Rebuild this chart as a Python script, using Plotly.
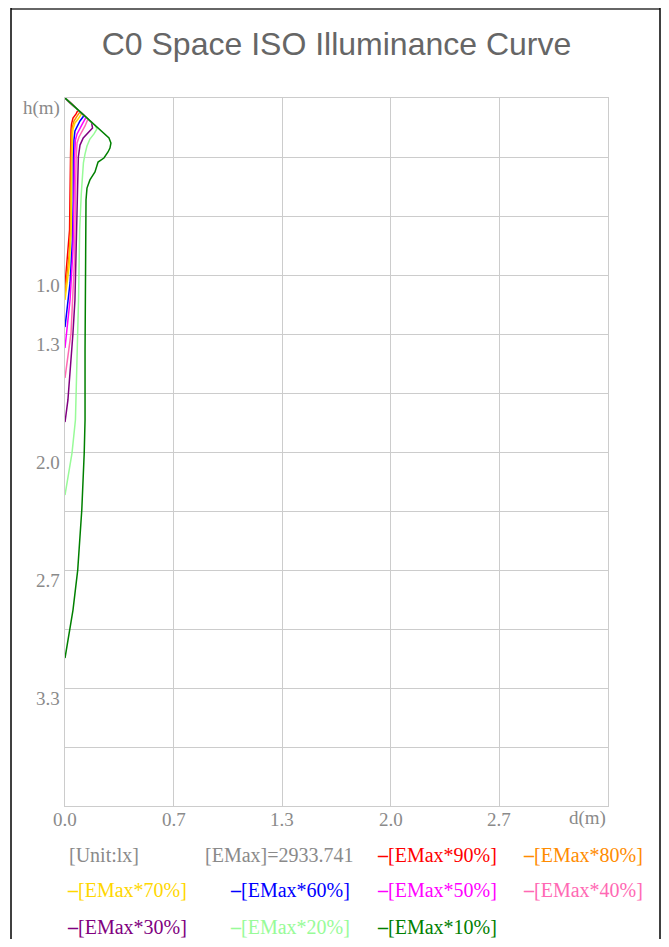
import plotly.graph_objects as go

# ---------------- data ----------------
series_names = ["[EMax*90%]", "[EMax*80%]", "[EMax*70%]", "[EMax*60%]", "[EMax*50%]",
                "[EMax*40%]", "[EMax*30%]", "[EMax*20%]", "[EMax*10%]"]
series_colors = ["#ff0000", "#ff8c00", "#ffd700", "#0000ff", "#ff00ff",
                 "#ff69b4", "#800080", "#98fb98", "#008000"]

d90 = [0, 0.080, 0.068, 0.049, 0.040, 0.037, 0.034, 0.031, 0.028, 0.018, 0]
h90 = [0, 0.068, 0.090, 0.113, 0.147, 0.181, 0.333, 0.576, 0.746, 0.859, 1.056]

d80 = [0, 0.092, 0.074, 0.055, 0.045, 0.040, 0.037, 0.037, 0.034, 0.025, 0]
h80 = [0, 0.078, 0.102, 0.130, 0.164, 0.209, 0.350, 0.576, 0.746, 0.887, 1.102]

d70 = [0, 0.103, 0.080, 0.061, 0.049, 0.045, 0.043, 0.041, 0.037, 0.025, 0]
h70 = [0, 0.087, 0.119, 0.141, 0.175, 0.226, 0.350, 0.576, 0.774, 0.955, 1.141]

d60 = [0, 0.117, 0.092, 0.080, 0.061, 0.055, 0.052, 0.051, 0.046, 0.031, 0]
h60 = [0, 0.099, 0.130, 0.153, 0.186, 0.237, 0.350, 0.576, 0.802, 1.045, 1.294]

d50 = [0, 0.129, 0.110, 0.092, 0.074, 0.064, 0.058, 0.055, 0.049, 0.031, 0]
h50 = [0, 0.109, 0.141, 0.169, 0.203, 0.237, 0.350, 0.576, 0.859, 1.141, 1.412]

d40 = [0, 0.141, 0.123, 0.103, 0.086, 0.074, 0.068, 0.064, 0.058, 0.037, 0]
h40 = [0, 0.119, 0.158, 0.192, 0.220, 0.254, 0.350, 0.576, 0.915, 1.328, 1.582]

d30 = [0, 0.163, 0.169, 0.143, 0.112, 0.092, 0.082, 0.077, 0.072, 0.061, 0.049, 0.018, 0]
h30 = [0, 0.138, 0.169, 0.198, 0.226, 0.266, 0.333, 0.520, 0.746, 1.141, 1.328, 1.706, 1.831]

d20 = [0, 0.184, 0.196, 0.178, 0.153, 0.135, 0.123, 0.113, 0.100, 0.090, 0.083, 0.074, 0.064, 0.043, 0]
h20 = [0, 0.155, 0.175, 0.203, 0.232, 0.271, 0.316, 0.367, 0.540, 0.746, 1.141, 1.537, 1.819, 2.006, 2.243]

d10 = [0, 0.123, 0.246, 0.270, 0.282, 0.276, 0.264, 0.239, 0.203, 0.184, 0.153, 0.135, 0.129,
       0.126, 0.123, 0.123, 0.118, 0.103, 0.078, 0.049, 0]
h10 = [0, 0.104, 0.208, 0.226, 0.254, 0.283, 0.305, 0.339, 0.362, 0.418, 0.463, 0.509, 0.576,
       0.859, 1.424, 1.819, 2.006, 2.328, 2.667, 2.893, 3.164]

series_d = [d90, d80, d70, d60, d50, d40, d30, d20, d10]
series_h = [h90, h80, h70, h60, h50, h40, h30, h20, h10]

x_tick_vals = [0, 2 / 3, 4 / 3, 2.0, 8 / 3]
x_tick_text = ["0.0", "0.7", "1.3", "2.0", "2.7"]
y_tick_vals = [1.0, 4 / 3, 2.0, 8 / 3, 10 / 3]
y_tick_text = ["1.0", "1.3", "2.0", "2.7", "3.3"]
x_max = 10 / 3
y_max = 4.0

title_text = "C0 Space ISO Illuminance Curve"
unit_text = "[Unit:lx]"
emax_text = "[EMax]=2933.741"
x_name = "d(m)"
y_name = "h(m)"

# ---------------- layout helpers ----------------
OFF = 8                      # page body margin added by the browser
W, H = 669 - 2 * OFF, 947 - 2 * OFF
PL, PR, PT, PB = 65, 608, 98, 806   # plot area in page pixels
SERIF = "Liberation Serif, Times New Roman, serif"
GRAY = "#8a8a8a"


def px_x(px):
    return (px - PL) / (PR - PL)


def px_y(py):
    return (PB - py) / (PB - PT)


fig = go.Figure()
for name, col, dd, hh in zip(series_names, series_colors, series_d, series_h):
    fig.add_trace(go.Scatter(x=dd, y=hh, mode="lines", name=name,
                             line=dict(color=col, width=1.5), showlegend=False,
                             hoverinfo="skip"))

annotations = []
# y tick labels, drawn just below their grid line
for v, t in zip(y_tick_vals, y_tick_text):
    annotations.append(dict(x=0, xref="paper", y=v, yref="y", text=t, showarrow=False,
                            xanchor="right", yanchor="middle", xshift=-3, yshift=-10,
                            font=dict(family=SERIF, size=19, color=GRAY)))
annotations.append(dict(x=0, xref="paper", y=0, yref="y", text=y_name, showarrow=False,
                        xanchor="right", yanchor="middle", xshift=-3, yshift=-10,
                        font=dict(family=SERIF, size=19, color=GRAY)))
# x tick labels
for v, t in zip(x_tick_vals, x_tick_text):
    annotations.append(dict(x=v, xref="x", y=0, yref="paper", text=t, showarrow=False,
                            xanchor="center", yanchor="middle", yshift=-13,
                            font=dict(family=SERIF, size=19, color=GRAY)))
annotations.append(dict(x=x_max, xref="x", y=0, yref="paper", text=x_name, showarrow=False,
                        xanchor="right", yanchor="middle", yshift=-12,
                        font=dict(family=SERIF, size=19, color=GRAY)))

legend_pos = [(375, 855), (521, 855), (65, 890), (228, 890), (375, 890), (521, 890),
              (65, 927), (228, 927), (375, 927)]
annotations.append(dict(x=px_x(67), xref="paper", y=px_y(855), yref="paper", text=unit_text,
                        showarrow=False, xanchor="left", yanchor="middle",
                        font=dict(family=SERIF, size=20, color=GRAY)))
annotations.append(dict(x=px_x(203), xref="paper", y=px_y(855), yref="paper", text=emax_text,
                        showarrow=False, xanchor="left", yanchor="middle",
                        font=dict(family=SERIF, size=20, color=GRAY)))
for name, col, (lx, ly) in zip(series_names, series_colors, legend_pos):
    annotations.append(dict(x=px_x(lx), xref="paper", y=px_y(ly), yref="paper",
                            text="<b>\u2013</b>" + name, showarrow=False, xanchor="left",
                            yanchor="middle",
                            font=dict(family=SERIF, size=20, color=col)))

shapes = [
    dict(type="line", xref="paper", yref="paper", x0=px_x(11), x1=px_x(660),
         y0=px_y(9), y1=px_y(9), line=dict(color="#666666", width=2)),
    dict(type="line", xref="paper", yref="paper", x0=px_x(11), x1=px_x(11),
         y0=px_y(8), y1=px_y(960), line=dict(color="#000000", width=1.5)),
    dict(type="line", xref="paper", yref="paper", x0=px_x(660), x1=px_x(660),
         y0=px_y(8), y1=px_y(960), line=dict(color="#000000", width=1.5)),
]

fig.update_layout(
    width=W, height=H,
    margin=dict(l=PL - OFF, r=(W + OFF) - PR, t=PT - OFF, b=(H + OFF) - PB, pad=0),
    paper_bgcolor="white", plot_bgcolor="white",
    title=dict(text=title_text, x=0.5, xref="paper", xanchor="center",
               y=1 - (44 - OFF) / H, yref="container", yanchor="middle",
               font=dict(family="Liberation Sans, Arial, sans-serif", size=32, color="#666666")),
    xaxis=dict(range=[0, x_max], tickmode="array", tickvals=x_tick_vals,
               showticklabels=False,
               showgrid=True, gridcolor="#cccccc", gridwidth=1, zeroline=False,
               showline=True, linecolor="#cccccc", linewidth=1, mirror=True, ticks="",
               fixedrange=True),
    yaxis=dict(range=[y_max, 0], tick0=0, dtick=1 / 3, showticklabels=False,
               showgrid=True, gridcolor="#cccccc", gridwidth=1, zeroline=False,
               showline=True, linecolor="#cccccc", linewidth=1, mirror=True, ticks="",
               fixedrange=True),
    annotations=annotations,
    shapes=shapes,
    showlegend=False,
)

fig.write_html("out.html")
